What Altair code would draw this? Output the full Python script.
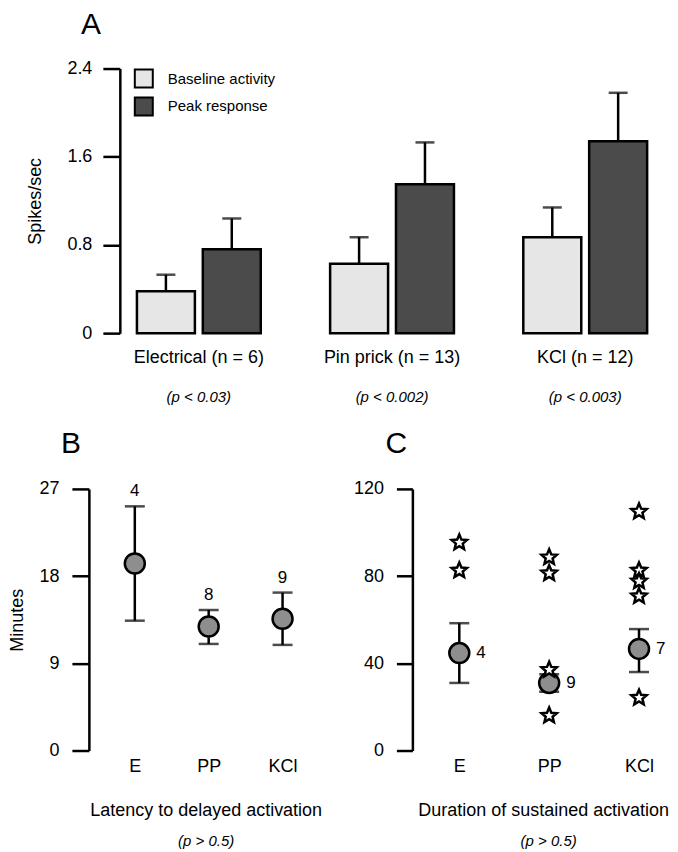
import altair as alt
import pandas as pd

FONT = "Liberation Sans"

# ---------------- Panel A data ----------------
groups_a = ["Electrical (n = 6)", "Pin prick (n = 13)", "KCl (n = 12)"]
pvals_a = ["(p < 0.03)", "(p < 0.002)", "(p < 0.003)"]
series_a = ["Baseline activity", "Peak response"]
baseline_mean = [0.38, 0.63, 0.87]
baseline_err = [0.53, 0.87, 1.14]
peak_mean = [0.76, 1.35, 1.74]
peak_err = [1.04, 1.73, 2.18]

# ---------------- Panel B data ----------------
cats = ["E", "PP", "KCl"]
lat_mean = [19.3, 12.8, 13.6]
lat_lo = [13.4, 11.0, 10.9]
lat_hi = [25.2, 14.5, 16.3]
lat_n = ["4", "8", "9"]

# ---------------- Panel C data ----------------
dur_mean = [44.7, 31.0, 46.6]
dur_lo = [31.0, 27.0, 36.0]
dur_hi = [58.4, 35.0, 55.7]
dur_n = ["4", "9", "7"]
star_cat = ["E", "E", "PP", "PP", "PP", "PP", "KCl", "KCl", "KCl", "KCl", "KCl"]
star_val = [95.4, 82.6, 88.6, 81.3, 37.0, 16.0, 109.6, 82.6, 77.6, 70.8, 24.2]

STAR = ("M0,-1L0.265,-0.364L0.951,-0.309L0.428,0.139L0.588,0.809L0,0.45"
        "L-0.588,0.809L-0.428,0.139L-0.951,-0.309L-0.265,-0.364Z")

# ---------------- Panel A ----------------
rows = []
for i, g in enumerate(groups_a):
    rows.append({"group": g, "series": series_a[0], "value": baseline_mean[i], "err": baseline_err[i]})
    rows.append({"group": g, "series": series_a[1], "value": peak_mean[i], "err": peak_err[i]})
df_a = pd.DataFrame(rows)

p_expr = "datum.value == '{}' ? '{}' : datum.value == '{}' ? '{}' : '{}'".format(
    groups_a[0], pvals_a[0], groups_a[1], pvals_a[1], pvals_a[2])

scale_xa = alt.Scale(paddingInner=0.359, paddingOuter=0.075, align=0.59)
scale_off = alt.Scale(paddingInner=0.12, paddingOuter=0)
scale_ya = alt.Scale(domain=[0, 2.4], nice=False)

axis_ya = alt.Axis(values=[0, 0.8, 1.6, 2.4], format="~g", title="Spikes/sec",
                   tickSize=17, labelPadding=11, titlePadding=22)
axis_xa = alt.Axis(title=None, orient="bottom", labelAngle=0, domain=False, ticks=False,
                   tickSize=0, labelPadding=15, labelFontSize=18)
axis_xa_p = alt.Axis(title=None, orient="bottom", labelAngle=0, domain=False, ticks=False,
                     tickSize=0, labelPadding=56, labelFontSize=15, labelFontStyle="italic",
                     labelExpr=p_expr)


def xa(axis):
    return alt.X("group:N", sort=groups_a, scale=scale_xa, axis=axis)


xoff = alt.XOffset("series:N", sort=series_a, scale=scale_off)

bars = alt.Chart(df_a).mark_bar(stroke="black", strokeWidth=2.5).encode(
    x=xa(axis_xa),
    xOffset=xoff,
    y=alt.Y("value:Q", scale=scale_ya, axis=axis_ya),
    fill=alt.Fill("series:N", sort=series_a,
                  scale=alt.Scale(domain=series_a, range=["#e6e6e6", "#4b4b4b"]),
                  legend=alt.Legend(title=None, orient="none", legendX=14, legendY=0,
                                    symbolType="square", symbolSize=324,
                                    symbolStrokeColor="black", symbolStrokeWidth=2,
                                    labelFontSize=15, labelOffset=14, rowPadding=2,
                                    padding=0, labelColor="black")),
)
errs = alt.Chart(df_a).mark_rule(color="black", strokeWidth=2.5).encode(
    x=xa(None), xOffset=xoff,
    y=alt.Y("value:Q", scale=scale_ya, axis=axis_ya), y2="err:Q")
caps = alt.Chart(df_a).mark_tick(color="black", thickness=2.5, size=19).encode(
    x=xa(axis_xa_p), xOffset=xoff,
    y=alt.Y("err:Q", scale=scale_ya, axis=axis_ya))

chart_a = alt.layer(bars, errs, caps).resolve_axis(x="independent").properties(
    width=540, height=265,
    title=alt.TitleParams("A", anchor="start", frame="group", fontSize=30,
                          dx=-39, offset=-4, baseline="alphabetic"))


# ---------------- Panel B / C helper ----------------
def panel(letter, dx, mean, lo, hi, n, yscale, yaxis, xscale, width, title, tx, ptx,
          label_mode, stars=None):
    df = pd.DataFrame({"cat": cats, "mean": mean, "lo": lo, "hi": hi, "n": n})
    ax_main = alt.Axis(title=title, orient="bottom", labelAngle=0, domain=False, ticks=False,
                       tickSize=0, labelPadding=7, labelFontSize=18, titleX=tx, titleY=65,
                       titleBaseline="alphabetic", titleAlign="center")
    ax_p = alt.Axis(title="(p > 0.5)", orient="bottom", labels=False, domain=False,
                    ticks=False, tickSize=0, titleX=ptx, titleY=95,
                    titleBaseline="alphabetic", titleAlign="center",
                    titleFontSize=15, titleFontStyle="italic")

    def xx(axis):
        return alt.X("cat:N", sort=cats, scale=xscale, axis=axis)

    base = alt.Chart(df)
    rule = base.mark_rule(color="black", strokeWidth=2.5).encode(
        x=xx(ax_main), y=alt.Y("lo:Q", scale=yscale, axis=yaxis), y2="hi:Q")
    cap_lo = base.mark_tick(color="black", thickness=2.5, size=20).encode(
        x=xx(None), y=alt.Y("lo:Q", scale=yscale, axis=yaxis))
    cap_hi = base.mark_tick(color="black", thickness=2.5, size=20).encode(
        x=xx(ax_p), y=alt.Y("hi:Q", scale=yscale, axis=yaxis))
    dots = base.mark_point(shape="circle", filled=True, fill="#8e8e8e", stroke="black",
                           strokeWidth=2.5, size=400, opacity=1).encode(
        x=xx(None), y=alt.Y("mean:Q", scale=yscale, axis=yaxis))
    if label_mode == "above":
        txt = base.mark_text(dy=-15, fontSize=17, color="black", baseline="middle").encode(
            x=xx(None), y=alt.Y("hi:Q", scale=yscale, axis=yaxis), text="n:N")
    else:
        txt = base.mark_text(dx=17, fontSize=17, color="black", align="left",
                             baseline="middle").encode(
            x=xx(None), y=alt.Y("mean:Q", scale=yscale, axis=yaxis), text="n:N")
    layers = [rule, cap_lo, cap_hi, dots]
    if stars is not None:
        sdf = pd.DataFrame({"cat": stars[0], "val": stars[1]})
        st = alt.Chart(sdf).mark_point(shape=STAR, filled=True, fill="white", stroke="black",
                                       strokeWidth=2.5, size=260, opacity=1).encode(
            x=xx(None), y=alt.Y("val:Q", scale=yscale, axis=yaxis))
        layers.append(st)
    layers.append(txt)
    return alt.layer(*layers).resolve_axis(x="independent").properties(
        width=width, height=262,
        title=alt.TitleParams(letter, anchor="start", frame="group", fontSize=30,
                              dx=dx, offset=-3, baseline="alphabetic"))


chart_b = panel(
    "B", -59, lat_mean, lat_lo, lat_hi, lat_n,
    alt.Scale(domain=[0, 27], nice=False),
    alt.Axis(values=[0, 9, 18, 27], title="Minutes", offset=31, tickSize=17,
             labelPadding=13, titlePadding=12),
    alt.Scale(type="point", padding=0.845, align=0.12), 273,
    "Latency to delayed activation", 86, 86, "above")

chart_c = panel(
    "C", -27, dur_mean, dur_lo, dur_hi, dur_n,
    alt.Scale(domain=[0, 120], nice=False),
    alt.Axis(values=[0, 40, 80, 120], title=None, tickSize=16, labelPadding=13),
    alt.Scale(type="point", padding=0.389, align=0.671), 250,
    "Duration of sustained activation", 131, 136, "right",
    stars=(star_cat, star_val))

chart = alt.vconcat(
    chart_a,
    alt.hconcat(chart_b, chart_c, spacing=20, bounds="flush"),
    spacing=156, bounds="flush",
).resolve_scale(fill="independent").properties(padding=0).configure(
    font=FONT
).configure_view(stroke="transparent").configure_axis(
    domainColor="black", domainWidth=2.5, tickColor="black", tickWidth=2.5,
    labelColor="black", titleColor="black", grid=False,
    labelFont=FONT, titleFont=FONT, labelFontSize=18, titleFontSize=18,
    titleFontWeight="normal",
).configure_title(font=FONT, fontWeight="normal", color="black", fontSize=30)

chart.save("out.html", embed_options={"renderer": "svg", "actions": False})
